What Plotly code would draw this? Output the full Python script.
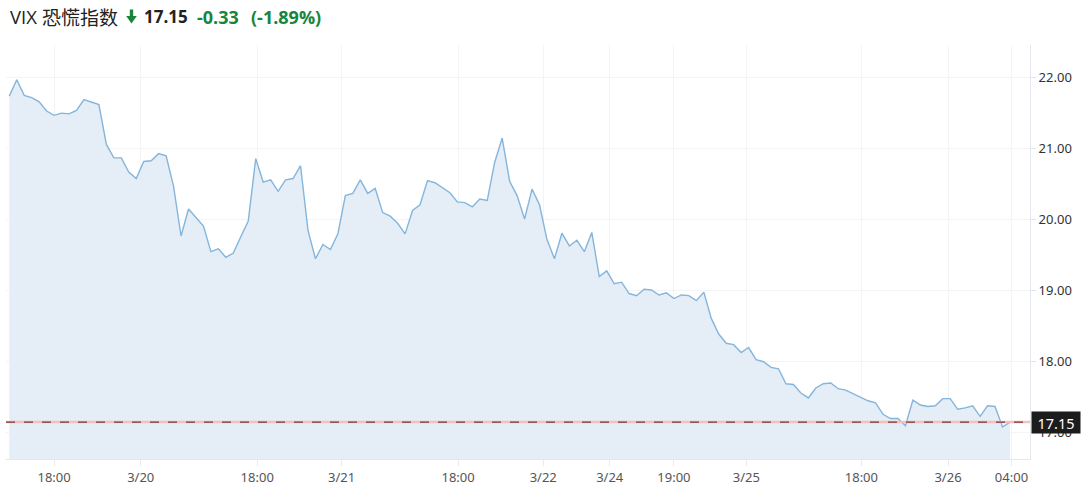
import plotly.graph_objects as go

# ---- data ----
values = [
    21.74, 21.97, 21.75, 21.72, 21.66, 21.53, 21.47, 21.50, 21.49, 21.54,
    21.69, 21.66, 21.62, 21.06, 20.87, 20.87, 20.67, 20.58, 20.82, 20.83,
    20.93, 20.90, 20.47, 19.77, 20.15, 20.03, 19.91, 19.55, 19.59, 19.47,
    19.53, 19.76, 19.98, 20.86, 20.53, 20.56, 20.40, 20.56, 20.58, 20.76,
    19.85, 19.45, 19.65, 19.58, 19.80, 20.34, 20.37, 20.56, 20.37, 20.44,
    20.10, 20.05, 19.95, 19.80, 20.13, 20.21, 20.55, 20.52, 20.45, 20.38,
    20.25, 20.24, 20.18, 20.29, 20.27, 20.81, 21.15, 20.54, 20.34, 20.01,
    20.43, 20.21, 19.72, 19.45, 19.81, 19.63, 19.71, 19.55, 19.82, 19.20,
    19.28, 19.10, 19.12, 18.96, 18.93, 19.02, 19.01, 18.94, 18.97, 18.89,
    18.94, 18.93, 18.86, 18.98, 18.61, 18.39, 18.26, 18.24, 18.13, 18.20,
    18.03, 18.00, 17.92, 17.90, 17.69, 17.68, 17.56, 17.49, 17.63, 17.69,
    17.70, 17.62, 17.60, 17.55, 17.50, 17.45, 17.42, 17.26, 17.20, 17.20,
    17.10, 17.46, 17.39, 17.37, 17.38, 17.48, 17.48, 17.33, 17.35, 17.38,
    17.23, 17.38, 17.37, 17.08, 17.15,
]
point_index = list(range(len(values)))

x_tick_labels = ["18:00", "3/20", "18:00", "3/21", "18:00", "3/22",
                 "3/24", "19:00", "3/25", "18:00", "3/26", "04:00"]
x_tick_index = [6.0, 17.6, 33.2, 44.5, 60.1, 71.5, 80.4, 89.0, 98.7, 114.1, 125.7, 134.2]
y_ticks = [17, 18, 19, 20, 21, 22]

last_value = values[-1]
change = -0.33
change_pct = -1.89
title_latin = "VIX"
title_cjk = "恐慌指数"

# ---- layout geometry (pixels) ----
W, H = 1088, 491
PL, PR, PT, PB = 6, 1030, 45, 459


def px_x(px):
    return (px - PL) / (PR - PL)


def px_y(py):
    return (PB - py) / (PB - PT)


GREEN = "#17853b"
fig = go.Figure()

fig.add_trace(go.Scatter(
    x=point_index, y=values, mode="lines",
    line=dict(color="#84b5dc", width=1.4),
    fill="tozeroy", fillcolor="#e5eef6",
    hoverinfo="skip", showlegend=False,
))

# reference line at last value: pink halo + dark dashed line
fig.add_shape(type="line", xref="paper", yref="y", x0=0, x1=1,
              y0=last_value, y1=last_value,
              line=dict(color="#f3c0c0", width=2.6), layer="above")
fig.add_shape(type="line", xref="paper", yref="y", x0=0, x1=1,
              y0=last_value, y1=last_value,
              line=dict(color="#7a3535", width=1.3, dash="dash"), layer="above")

# green down arrow in the header
arrow_pts = [(129.8, 9.5), (133.2, 9.5), (133.2, 16), (136.8, 16), (131.5, 23.5), (126.2, 16), (129.8, 16)]
arrow_path = "M " + " L ".join("%.5f,%.5f" % (px_x(a), px_y(b)) for a, b in arrow_pts) + " Z"
fig.add_shape(type="path", xref="paper", yref="paper", path=arrow_path,
              fillcolor=GREEN, line=dict(width=0), layer="above")

annotations = [
    dict(text=title_latin, x=px_x(8), y=px_y(17), xanchor="left", yanchor="middle",
         font=dict(size=18.5, color="#222222", family="Open Sans")),
    dict(text=title_cjk, x=px_x(40), y=px_y(17), xanchor="left", yanchor="middle",
         font=dict(size=19, color="#222222", family="Noto Sans CJK SC")),
    dict(text="<b>%.2f</b>" % last_value, x=px_x(142), y=px_y(17), xanchor="left", yanchor="middle",
         font=dict(size=17, color="#222222", family="Open Sans")),
    dict(text="<b>%.2f</b>" % change, x=px_x(195), y=px_y(17), xanchor="left", yanchor="middle",
         font=dict(size=18, color=GREEN, family="Open Sans")),
    dict(text="<b>(%.2f%%)</b>" % change_pct, x=px_x(249), y=px_y(17), xanchor="left", yanchor="middle",
         font=dict(size=18, color=GREEN, family="Open Sans")),
    dict(text="%.2f" % last_value, xref="paper", yref="y", x=px_x(1031), y=last_value,
         xanchor="left", yanchor="middle", showarrow=False,
         width=46, height=19, borderpad=1, align="center",
         bgcolor="#1c1c1c", font=dict(size=14.5, color="#ffffff", family="Noto Sans")),
]
for a in annotations:
    a.setdefault("xref", "paper")
    a.setdefault("yref", "paper")
    a.setdefault("showarrow", False)

fig.update_layout(
    width=W, height=H,
    margin=dict(l=PL, r=W - PR, t=PT, b=H - PB),
    paper_bgcolor="#ffffff", plot_bgcolor="#ffffff",
    annotations=annotations,
    font=dict(family="Noto Sans", size=13, color="#444444"),
    xaxis=dict(
        range=[-0.44, 136.68], tickmode="array",
        tickvals=x_tick_index, ticktext=x_tick_labels,
        showgrid=True, gridcolor="#f3f4f6", gridwidth=1,
        showline=True, linecolor="#e3e8ee", linewidth=1,
        ticks="outside", ticklen=6, tickcolor="#e8ecf0",
        tickfont=dict(size=13, color="#555555"),
        zeroline=False, fixedrange=True,
    ),
    yaxis=dict(
        side="right", range=[16.63, 22.46], tickmode="array",
        tickvals=y_ticks, ticktext=["%.2f" % v for v in y_ticks],
        showgrid=True, gridcolor="#f3f4f6", gridwidth=1,
        showline=True, linecolor="#e3e8ee", linewidth=1,
        ticks="outside", ticklen=5, tickcolor="#dfe4ea",
        tickfont=dict(size=13, color="#333333"),
        zeroline=False, fixedrange=True,
    ),
)

fig.write_html("out.html", config={"displayModeBar": False},
               post_script="document.body.style.margin='0';")
